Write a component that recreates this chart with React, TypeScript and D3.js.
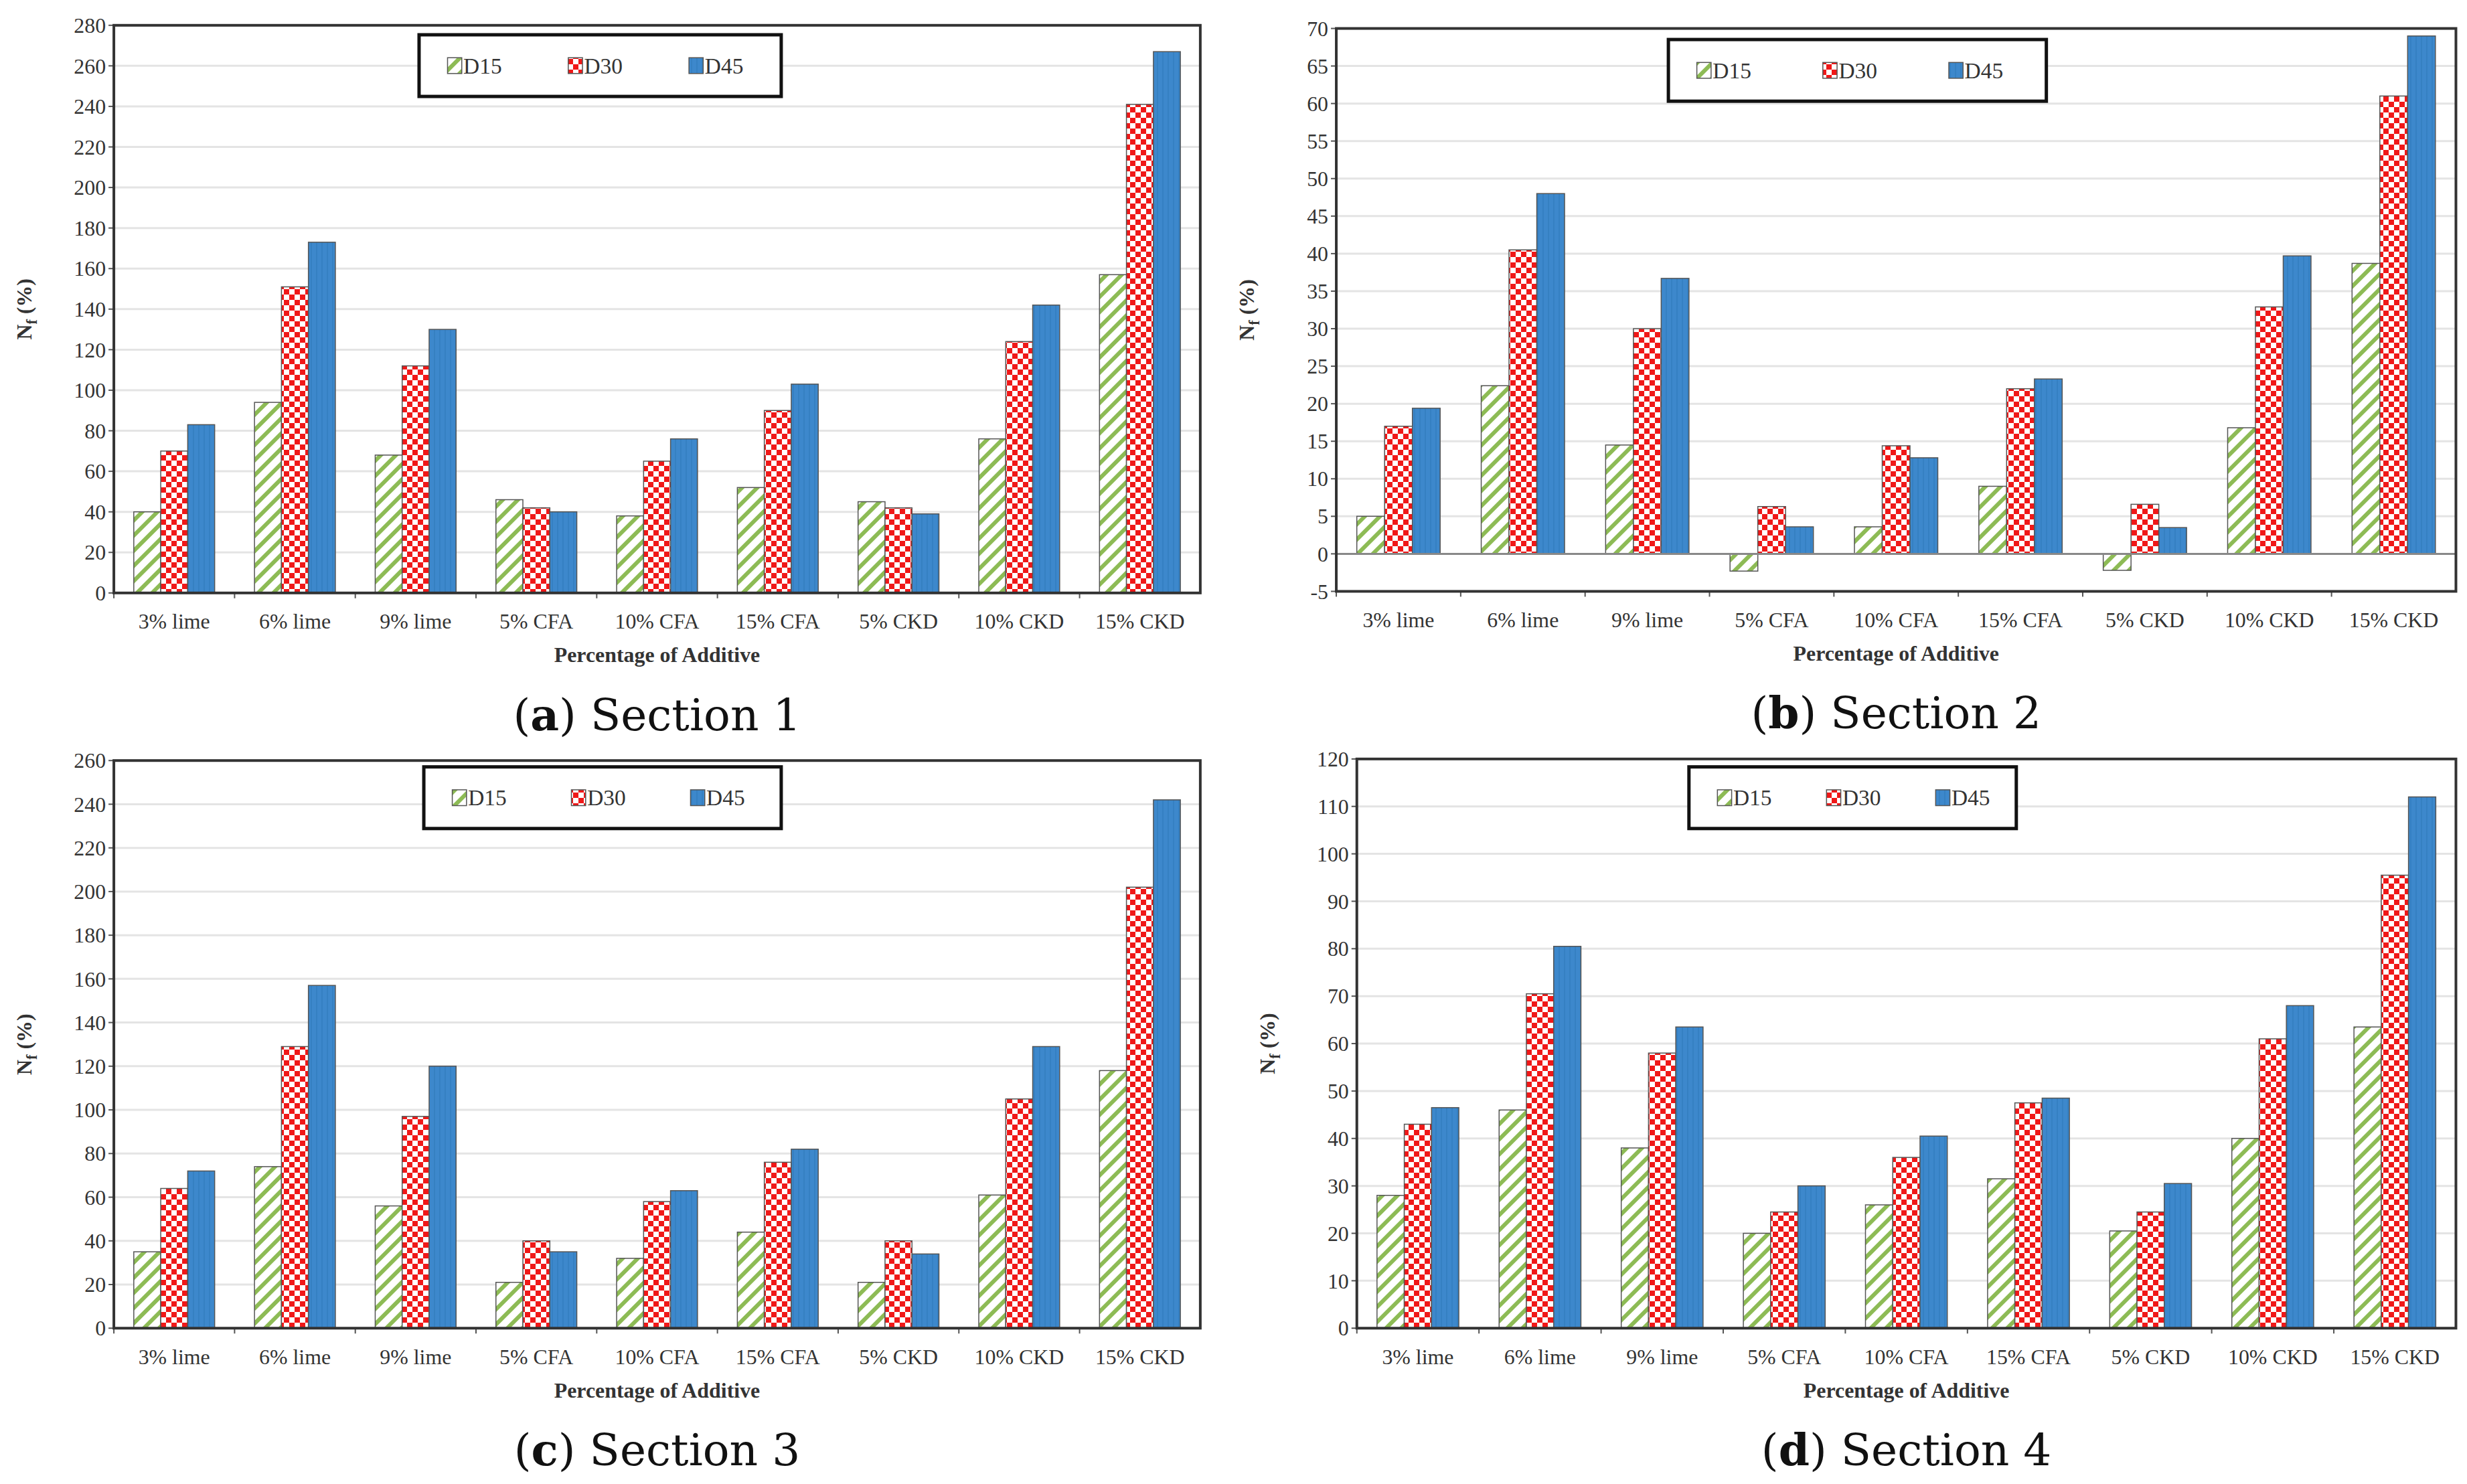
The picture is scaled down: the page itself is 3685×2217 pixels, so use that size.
import * as d3 from 'd3'

const S = 3685 / 1560

const categories = ['3% lime', '6% lime', '9% lime', '5% CFA', '10% CFA', '15% CFA', '5% CKD', '10% CKD', '15% CKD']
const seriesNames = ['D15', 'D30', 'D45']

const s1D15 = [40, 94, 68, 46, 38, 52, 45, 76, 157]
const s1D30 = [70, 151, 112, 42, 65, 90, 42, 124, 241]
const s1D45 = [83, 173, 130, 40, 76, 103, 39, 142, 267]

const s2D15 = [5, 22.4, 14.5, -2.3, 3.6, 9, -2.2, 16.8, 38.7]
const s2D30 = [17, 40.5, 30, 6.3, 14.4, 22, 6.6, 32.9, 61]
const s2D45 = [19.4, 48, 36.7, 3.6, 12.8, 23.3, 3.5, 39.7, 69]

const s3D15 = [35, 74, 56, 21, 32, 44, 21, 61, 118]
const s3D30 = [64, 129, 97, 40, 58, 76, 40, 105, 202]
const s3D45 = [72, 157, 120, 35, 63, 82, 34, 129, 242]

const s4D15 = [28, 46, 38, 20, 26, 31.5, 20.5, 40, 63.5]
const s4D30 = [43, 70.5, 58, 24.5, 36, 47.5, 24.5, 61, 95.5]
const s4D45 = [46.5, 80.5, 63.5, 30, 40.5, 48.5, 30.5, 68, 112]

const FILLS = ['url(#pD15)', 'url(#pD30)', 'url(#pD45)']
const FONT = '"Liberation Serif", "Times New Roman", serif'

interface PanelProps {
  series: number[][]
  domain: [number, number]
  step: number
  box: { x0: number; x1: number; y0: number; y1: number }
  legend: { x0: number; x1: number; y0: number; y1: number }
  letter: string
  title: string
}

function Panel({ series, domain, step, box, legend, letter, title }: PanelProps) {
  const x0 = box.x0 * S, x1 = box.x1 * S, y0 = box.y0 * S, y1 = box.y1 * S
  const y = d3.scaleLinear().domain(domain).range([y1, y0])
  const xb = d3.scaleBand().domain(categories).range([x0, x1]).paddingInner(0.33).paddingOuter(0.165)
  const bw = xb.bandwidth() / 3
  const ticks = d3.range(domain[0], domain[1] + step / 2, step)
  const fs = 13.5 * S
  const lx0 = legend.x0 * S, lx1 = legend.x1 * S, ly0 = legend.y0 * S, ly1 = legend.y1 * S
  const lstep = (lx1 - lx0) / 3
  const cx = (x0 + x1) / 2
  return (
    <g fontFamily={FONT}>
      {ticks.map(t => (
        <g key={t}>
          <line x1={x0} x2={x1} y1={y(t)} y2={y(t)} stroke="#e4e4e4" strokeWidth={3} />
          <line x1={x0 - 8} x2={x0} y1={y(t)} y2={y(t)} stroke="#555" strokeWidth={2} />
          <text x={x0 - 12} y={y(t)} dy="0.35em" textAnchor="end" fontSize={fs} fill="#333">{t}</text>
        </g>
      ))}
      {series.map((vals, si) =>
        vals.map((v, ci) => {
          const bx = xb(categories[ci])! + si * bw
          const top = Math.min(y(v), y(0))
          const h = Math.abs(y(v) - y(0))
          return <rect key={si + '-' + ci} x={bx} y={top} width={bw} height={h} fill={FILLS[si]} stroke="#555" strokeWidth={1.5} />
        })
      )}
      {domain[0] < 0 && <line x1={x0} x2={x1} y1={y(0)} y2={y(0)} stroke="#888" strokeWidth={3} />}
      {categories.map((c, i) => (
        <g key={c}>
          <line x1={xb.step() * i + x0} x2={xb.step() * i + x0} y1={y1} y2={y1 + 8} stroke="#555" strokeWidth={2} />
          <text x={xb(c)! + xb.bandwidth() / 2} y={y1 + 18 * S} dy="0.35em" textAnchor="middle" fontSize={fs} fill="#333">{c}</text>
        </g>
      ))}
      <rect x={x0} y={y0} width={x1 - x0} height={y1 - y0} fill="none" stroke="#333" strokeWidth={4} />
      <text x={cx} y={y1 + 39 * S} dy="0.35em" textAnchor="middle" fontSize={fs} fontWeight="bold" fill="#333">Percentage of Additive</text>
      <text transform={`translate(${x0 - 52 * S},${(y0 + y1) / 2}) rotate(-90)`} textAnchor="middle" fontSize={fs} fontWeight="bold" fill="#333">
        N<tspan fontSize={fs * 0.7} dy={fs * 0.25}>f</tspan><tspan dy={-fs * 0.25}> (%)</tspan>
      </text>
      <rect x={lx0} y={ly0} width={lx1 - lx0} height={ly1 - ly0} fill="white" stroke="#111" strokeWidth={5} />
      {seriesNames.map((n, i) => {
        const px = lx0 + lstep * i + 28 * S
        const py = (ly0 + ly1) / 2
        return (
          <g key={n}>
            <rect x={px - 10 * S} y={py - 5 * S} width={9 * S} height={10 * S} fill={FILLS[i]} stroke="#555" strokeWidth={1.5} />
            <text x={px} y={py} dy="0.35em" fontSize={fs * 1.05} fill="#333">{n}</text>
          </g>
        )
      })}
      <text x={cx} y={y1 + 77 * S} dy="0.35em" textAnchor="middle" fontSize={28 * S} fontFamily='"DejaVu Serif", serif' fill="#111">
        (<tspan fontWeight="bold">{letter}</tspan>) {title}
      </text>
    </g>
  )
}

export default function App() {
  return (
    <div style={{ position: 'absolute', left: 0, top: 0 }}>
      <svg width={3685} height={2217} style={{ display: 'block', background: 'white' }}>
        <defs>
          <pattern id="pD15" patternUnits="userSpaceOnUse" width={16} height={16} patternTransform="rotate(45)">
            <rect width={16} height={16} fill="white" />
            <rect width={6} height={16} fill="#8dbb55" />
          </pattern>
          <pattern id="pD30" patternUnits="userSpaceOnUse" width={16} height={16}>
            <rect width={16} height={16} fill="#f01818" />
            <rect width={8} height={8} fill="white" />
            <rect x={8} y={8} width={8} height={8} fill="white" />
          </pattern>
          <pattern id="pD45" patternUnits="userSpaceOnUse" width={8} height={8}>
            <rect width={8} height={8} fill="#3d88cc" />
            <rect width={2} height={8} fill="#3580c2" />
          </pattern>
        </defs>
        <Panel series={[s1D15, s1D30, s1D45]} domain={[0, 280]} step={20}
          box={{ x0: 72, x1: 759, y0: 16, y1: 375 }} legend={{ x0: 265, x1: 494, y0: 22, y1: 61 }} letter="a" title="Section 1" />
        <Panel series={[s2D15, s2D30, s2D45]} domain={[-5, 70]} step={5}
          box={{ x0: 845, x1: 1553, y0: 18, y1: 374 }} legend={{ x0: 1055, x1: 1294, y0: 25, y1: 64 }} letter="b" title="Section 2" />
        <Panel series={[s3D15, s3D30, s3D45]} domain={[0, 260]} step={20}
          box={{ x0: 72, x1: 759, y0: 481, y1: 840 }} legend={{ x0: 268, x1: 494, y0: 485, y1: 524 }} letter="c" title="Section 3" />
        <Panel series={[s4D15, s4D30, s4D45]} domain={[0, 120]} step={10}
          box={{ x0: 858, x1: 1553, y0: 480, y1: 840 }} legend={{ x0: 1068, x1: 1275, y0: 485, y1: 524 }} letter="d" title="Section 4" />
      </svg>
    </div>
  )
}
